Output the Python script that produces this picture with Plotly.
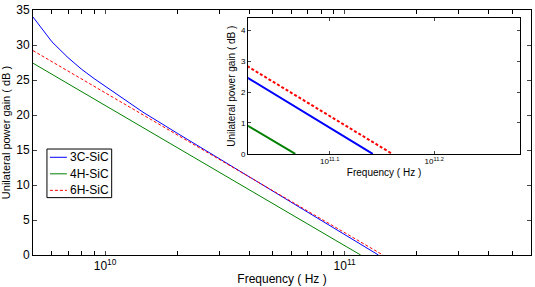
import math
import plotly.graph_objects as go

# ---- data ----
freq_3c = [5e9, 6e9, 7e9, 8e9, 9e9, 1e10, 1.2e10, 1.44e10, 2e10, 1.052e11, 1.384e11]
gain_3c = [34.0, 30.45, 28.2, 26.5, 25.2, 24.1, 22.2, 20.4, 17.4, 2.45, 0.0]
freq_4h = [5e9, 1.052e11, 1.167e11]
gain_4h = [27.4, 0.9, 0.0]
freq_6h = [5e9, 1.052e11, 1.445e11]
gain_6h = [29.2, 2.82, 0.0]

names = ["3C-SiC", "4H-SiC", "6H-SiC"]
colors = ["#0000FF", "#008000", "#FF0000"]
dashes = ["solid", "solid", "3px,2px"]
freqs = [freq_3c, freq_4h, freq_6h]
gains = [gain_3c, gain_4h, gain_6h]

main_yticks = [0, 5, 10, 15, 20, 25, 30, 35]
main_xtickexp = [10, 11]
inset_yticks = [0, 1, 2, 3, 4]
inset_xtickexp = [11.1, 11.2]

W, H = 535, 287
L, R, T, B = 32, 3, 4, 31
pw, ph = W - L - R, H - T - B

def px_x(p):
    return (p - L) / pw

def px_y(p):
    return (H - B - p) / ph

fig = go.Figure()
for n, f, g, c, d in zip(names, freqs, gains, colors, dashes):
    fig.add_trace(go.Scatter(x=f, y=g, mode="lines", name=n, showlegend=False,
                             line=dict(color=c, width=1, dash=d),
                             xaxis="x", yaxis="y"))
for n, f, g, c, d in zip(names, freqs, gains, colors, dashes):
    fig.add_trace(go.Scatter(x=f, y=g, mode="lines", name=n, showlegend=False,
                             line=dict(color=c, width=2, dash=d),
                             xaxis="x2", yaxis="y2"))

# legend box (drawn in paper coordinates)
shapes = [dict(type="rect", xref="paper", yref="paper",
               x0=px_x(46), x1=px_x(111), y0=px_y(197), y1=px_y(147),
               line=dict(color="black", width=1), fillcolor="white", layer="above")]
annotations = []
for i, (n, c, d) in enumerate(zip(names, colors, dashes)):
    yy = 155.5 + 17 * i
    shapes.append(dict(type="line", xref="paper", yref="paper",
                       x0=px_x(49), x1=px_x(66), y0=px_y(yy), y1=px_y(yy),
                       line=dict(color=c, width=1, dash=d), layer="above"))
    annotations.append(dict(text=n, xref="paper", yref="paper", x=px_x(67), y=px_y(yy),
                            xanchor="left", yanchor="middle", showarrow=False,
                            font=dict(size=12, color="black")))

# main x minor ticks (2..9 x decade)
minor_tv = []
for e in (9, 10, 11):
    for m in range(2, 10):
        v = m * 10 ** e
        if 5e9 <= v <= 6e11:
            minor_tv.append(v)

font = "Liberation Sans, Arial, sans-serif"
narrow = "Liberation Sans Narrow, Arial Narrow, Liberation Sans, sans-serif"
fig.update_layout(
    width=W, height=H,
    margin=dict(l=L, r=R, t=T, b=B),
    paper_bgcolor="white", plot_bgcolor="white",
    font=dict(family=font, size=12, color="black"),
    showlegend=False,
    shapes=shapes, annotations=annotations,
    xaxis=dict(type="log", range=[math.log10(5e9), math.log10(6e11)],
               tickvals=[10 ** e for e in main_xtickexp],
               ticktext=[f"10<sup>{e}</sup>" for e in main_xtickexp],
               ticks="inside", ticklen=4,
               minor=dict(tickvals=minor_tv, ticks="inside", ticklen=4,
                          tickcolor="black", showgrid=False),
               showline=True, linecolor="black", mirror="ticks", showgrid=False,
               zeroline=False, tickfont=dict(size=12), ticklabeloverflow="allow",
               title=dict(text="Frequency ( Hz )", font=dict(size=12), standoff=2)),
    yaxis=dict(range=[0, 35], tickvals=main_yticks, ticks="inside", ticklen=4,
               showline=True, linecolor="black", mirror="ticks", showgrid=False,
               zeroline=False, tickfont=dict(size=12), ticklabeloverflow="allow",
               title=dict(text="Unilateral power gain ( dB )", font=dict(size=11), standoff=6)),
    xaxis2=dict(type="log", range=[11.022, 11.282], domain=[px_x(248), px_x(521)],
                anchor="y2",
                tickvals=[10 ** e for e in inset_xtickexp],
                ticktext=[f"10<sup>{e}</sup>" for e in inset_xtickexp],
                ticks="inside", ticklen=3, showline=True, linecolor="black",
                mirror="ticks", showgrid=False, zeroline=False,
                tickfont=dict(size=8, family=narrow),
                title=dict(text="Frequency ( Hz )", font=dict(size=10, family=narrow), standoff=3)),
    yaxis2=dict(range=[0, 4.38], domain=[px_y(152), px_y(12.7)], anchor="x2",
                tickvals=inset_yticks, ticks="inside", ticklen=3,
                showline=True, linecolor="black", mirror="ticks", showgrid=False,
                zeroline=False, tickfont=dict(size=8, family=narrow),
                title=dict(text="Unilateral power gain ( dB )", font=dict(size=10, family=narrow), standoff=3)),
)
fig.write_html("out.html")
